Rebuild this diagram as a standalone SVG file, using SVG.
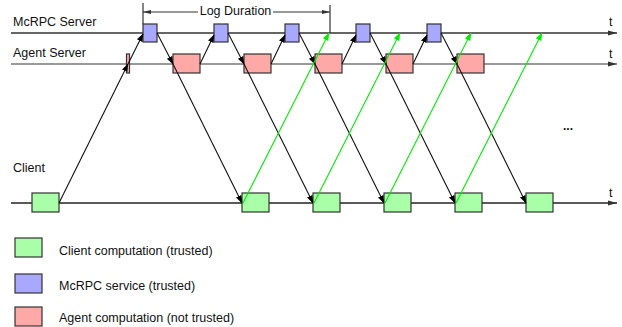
<svg xmlns="http://www.w3.org/2000/svg" width="622" height="327" viewBox="0 0 622 327">
<style>
text{font-family:"Liberation Sans",Arial,sans-serif;font-size:12.5px;fill:#111}
.box{stroke:#333;stroke-width:1.2}
.g{fill:#a8ffa8}.b{fill:#a8a8ff}.r{fill:#ffa8a8}
.blk{stroke:#111;stroke-width:1.1;fill:none;marker-end:url(#ab)}
.grn{stroke:#00ee00;stroke-width:1.1;fill:none;marker-end:url(#ag)}
.tl{stroke-width:1.4;fill:none}
</style>
<defs>
<marker id="ab" markerUnits="userSpaceOnUse" markerWidth="8" markerHeight="8" viewBox="0 0 8 8" refX="7.5" refY="4" orient="auto"><path d="M0,1 L8,4 L0,7 Z" fill="#000"/></marker>
<marker id="ag" markerUnits="userSpaceOnUse" markerWidth="8" markerHeight="8" viewBox="0 0 8 8" refX="7.5" refY="4" orient="auto"><path d="M0,1 L8,4 L0,7 Z" fill="#00ee00"/></marker>
<marker id="at" markerUnits="userSpaceOnUse" markerWidth="9" markerHeight="8" viewBox="0 0 9 8" refX="9" refY="4" orient="auto"><path d="M0,1.5 L9,4 L0,6.5 Z" fill="#333"/></marker>
<marker id="ad" markerUnits="userSpaceOnUse" markerWidth="8" markerHeight="6" viewBox="0 0 8 6" refX="8" refY="3" orient="auto"><path d="M0,1 L8,3 L0,5 Z" fill="#333"/></marker>
</defs>
<g id="timelines">
<line class="tl" x1="11" y1="33" x2="617" y2="33" stroke="#333" marker-end="url(#at)"/>
<line class="tl" x1="11" y1="64" x2="617" y2="64" stroke="#777" marker-end="url(#at)"/>
<line class="tl" x1="11" y1="203" x2="617" y2="203" stroke="#222" marker-end="url(#at)"/>
<text x="13" y="26">McRPC Server</text>
<text x="13" y="57">Agent Server</text>
<text x="13" y="172">Client</text>
<text x="609" y="26">t</text>
<text x="609" y="58">t</text>
<text x="609" y="197">t</text>
</g>
<g id="log-duration">
<line x1="143" y1="3" x2="143" y2="24" stroke="#333" stroke-width="1.2"/>
<line x1="330" y1="5" x2="330" y2="33" stroke="#333" stroke-width="1.2"/>
<line x1="198" y1="12" x2="143" y2="12" stroke="#333" stroke-width="1.1" marker-end="url(#ad)"/>
<line x1="273" y1="12" x2="330" y2="12" stroke="#333" stroke-width="1.1" marker-end="url(#ad)"/>
<text x="235.5" y="15" text-anchor="middle">Log Duration</text>
</g>
<g id="mcrpc-boxes">
<rect id="m1" class="box b" x="143" y="24" width="14" height="18"/>
<rect id="m2" class="box b" x="214" y="24" width="14" height="18"/>
<rect id="m3" class="box b" x="285" y="24" width="14" height="18"/>
<rect id="m4" class="box b" x="356" y="24" width="14" height="18"/>
<rect id="m5" class="box b" x="427" y="24" width="14" height="18"/>
</g>
<g id="agent-boxes">
<rect id="a0" class="box r" x="126.5" y="54" width="3" height="19"/>
<rect id="a1" class="box r" x="173" y="54" width="27" height="19"/>
<rect id="a2" class="box r" x="244" y="54" width="27" height="19"/>
<rect id="a3" class="box r" x="315" y="54" width="27" height="19"/>
<rect id="a4" class="box r" x="386" y="54" width="27" height="19"/>
<rect id="a5" class="box r" x="457" y="54" width="27" height="19"/>
</g>
<g id="client-boxes">
<rect id="c1" class="box g" x="32" y="193" width="27" height="19"/>
<rect id="c2" class="box g" x="242" y="193" width="27" height="19"/>
<rect id="c3" class="box g" x="313" y="193" width="27" height="19"/>
<rect id="c4" class="box g" x="384" y="193" width="27" height="19"/>
<rect id="c5" class="box g" x="455" y="193" width="27" height="19"/>
<rect id="c6" class="box g" x="526" y="193" width="27" height="19"/>
</g>
<g id="connectors">
<line class="blk" x1="59" y1="203" x2="128" y2="64"/>
<line class="blk" x1="128" y1="64" x2="143" y2="34"/>
<line class="blk" x1="157" y1="33" x2="173" y2="64"/>
<line class="blk" x1="173" y1="64" x2="242" y2="203"/>
<line class="blk" x1="200" y1="64" x2="214" y2="35"/>
<line class="blk" x1="228" y1="33" x2="244" y2="64"/>
<line class="blk" x1="244" y1="64" x2="313" y2="203"/>
<line class="blk" x1="271" y1="64" x2="285" y2="35"/>
<line class="blk" x1="299" y1="33" x2="315" y2="64"/>
<line class="blk" x1="315" y1="64" x2="384" y2="203"/>
<line class="blk" x1="342" y1="64" x2="356" y2="35"/>
<line class="blk" x1="370" y1="33" x2="386" y2="64"/>
<line class="blk" x1="386" y1="64" x2="455" y2="203"/>
<line class="blk" x1="413" y1="64" x2="427" y2="35"/>
<line class="blk" x1="441" y1="33" x2="457" y2="64"/>
<line class="blk" x1="457" y1="64" x2="526" y2="203"/>
<line class="grn" x1="243" y1="203" x2="329" y2="33"/>
<line class="grn" x1="314" y1="203" x2="400" y2="33"/>
<line class="grn" x1="385" y1="203" x2="471" y2="33"/>
<line class="grn" x1="456" y1="203" x2="542" y2="33"/>
</g>
<text x="563" y="130" style="font-weight:bold;font-size:12px">...</text>
<g id="legend">
<rect class="box g" x="15" y="238" width="27" height="19"/>
<text x="59" y="254.5">Client computation (trusted)</text>
<rect class="box b" x="15" y="274" width="27" height="19"/>
<text x="59" y="289.5">McRPC service (trusted)</text>
<rect class="box r" x="15" y="307" width="27" height="19"/>
<text x="59" y="321.5">Agent computation (not trusted)</text>
</g>
</svg>
